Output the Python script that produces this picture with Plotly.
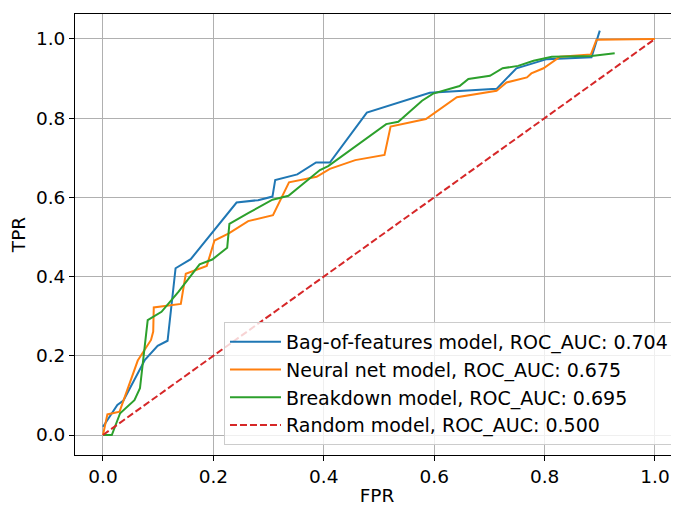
import plotly.graph_objects as go

# Bag-of-features model
bof_fpr = [0.0, 0.026, 0.037, 0.076, 0.099, 0.117, 0.1315, 0.159, 0.242, 0.281, 0.307, 0.312,
           0.352, 0.386, 0.411, 0.478, 0.592, 0.713, 0.749, 0.804, 0.885, 0.900]
bof_tpr = [0.021, 0.076, 0.087, 0.19, 0.225, 0.238, 0.421, 0.444, 0.587, 0.593, 0.602, 0.644,
           0.658, 0.688, 0.688, 0.814, 0.864, 0.874, 0.926, 0.949, 0.954, 1.021]

# Neural net model
nn_fpr = [0.0, 0.008, 0.03, 0.063, 0.087, 0.091, 0.092, 0.141, 0.150, 0.188, 0.202, 0.228,
          0.263, 0.308, 0.337, 0.387, 0.411, 0.457, 0.510, 0.521, 0.585, 0.641, 0.713, 0.731,
          0.768, 0.776, 0.798, 0.828, 0.884, 0.894, 1.0]
nn_tpr = [0.0, 0.052, 0.059, 0.188, 0.24, 0.261, 0.322, 0.331, 0.407, 0.427, 0.491, 0.509,
          0.540, 0.555, 0.638, 0.652, 0.672, 0.694, 0.707, 0.779, 0.798, 0.853, 0.869, 0.890,
          0.903, 0.913, 0.926, 0.955, 0.961, 0.998, 1.0]

# Breakdown model
bd_fpr = [0.0, 0.016, 0.031, 0.057, 0.067, 0.081, 0.106, 0.137, 0.175, 0.198, 0.225, 0.229,
          0.263, 0.307, 0.336, 0.393, 0.408, 0.513, 0.535, 0.578, 0.598, 0.646, 0.662, 0.701,
          0.724, 0.752, 0.780, 0.813, 0.885, 0.927]
bd_tpr = [0.0, 0.0, 0.055, 0.088, 0.118, 0.29, 0.311, 0.362, 0.431, 0.443, 0.473, 0.533,
          0.560, 0.594, 0.604, 0.669, 0.679, 0.785, 0.791, 0.844, 0.862, 0.881, 0.899, 0.907,
          0.926, 0.932, 0.945, 0.955, 0.957, 0.964]

# Random model
rnd_fpr = [0.0, 1.0]
rnd_tpr = [0.0, 1.0]

names = [
    "Bag-of-features model, ROC_AUC: 0.704",
    "Neural net model, ROC_AUC: 0.675",
    "Breakdown model, ROC_AUC: 0.695",
    "Random model, ROC_AUC: 0.500",
]
colors = ["#1f77b4", "#ff7f0e", "#2ca02c", "#d62728"]

tick_vals = [0, 0.2, 0.4, 0.6, 0.8, 1.0]
tick_text = ["0.0", "0.2", "0.4", "0.6", "0.8", "1.0"]

fig = go.Figure()
fig.add_trace(go.Scatter(x=bof_fpr, y=bof_tpr, mode="lines", name=names[0],
                         line=dict(color=colors[0], width=2)))
fig.add_trace(go.Scatter(x=nn_fpr, y=nn_tpr, mode="lines", name=names[1],
                         line=dict(color=colors[1], width=2)))
fig.add_trace(go.Scatter(x=bd_fpr, y=bd_tpr, mode="lines", name=names[2],
                         line=dict(color=colors[2], width=2)))
fig.add_trace(go.Scatter(x=rnd_fpr, y=rnd_tpr, mode="lines", name=names[3],
                         line=dict(color=colors[3], width=2, dash="7px,3px")))

font = "DejaVu Sans"
fs = 18.5
# The page body has an 8px default margin; the figure is sized/offset to compensate.
fig.update_layout(
    width=671, height=498,
    paper_bgcolor="white", plot_bgcolor="white",
    margin=dict(l=67, r=0, t=6, b=51, pad=0),
    font=dict(family=font, size=fs, color="black"),
    showlegend=True,
    legend=dict(x=0.9917, y=0.0227, xanchor="right", yanchor="bottom",
                bgcolor="rgba(255,255,255,0.8)", bordercolor="#cccccc", borderwidth=1,
                font=dict(family=font, size=19, color="black"),
                itemwidth=51, tracegroupgap=0),
    xaxis=dict(range=[-0.0507, 1.0435], tickvals=tick_vals, ticktext=tick_text,
               automargin=False,
               showgrid=True, gridcolor="#b0b0b0", gridwidth=1,
               zeroline=False, showline=True, linecolor="black", linewidth=1, mirror=True,
               ticks="outside", ticklen=5, tickcolor="black",
               title=dict(text="FPR", font=dict(size=fs), standoff=14),
               tickfont=dict(size=fs)),
    yaxis=dict(range=[-0.0505, 1.063], tickvals=tick_vals, ticktext=tick_text,
               automargin=False,
               showgrid=True, gridcolor="#b0b0b0", gridwidth=1,
               zeroline=False, showline=True, linecolor="black", linewidth=1,
               ticks="outside", ticklen=5, tickcolor="black",
               title=dict(text="TPR", font=dict(size=fs), standoff=6),
               tickfont=dict(size=fs)),
)

fig.write_html("out.html")
